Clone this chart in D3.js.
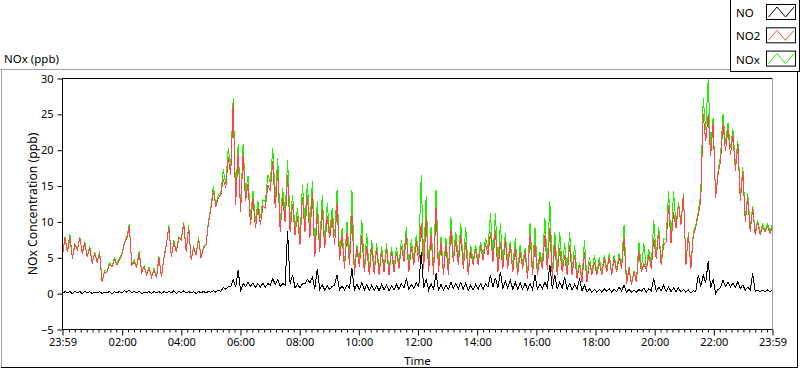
<!DOCTYPE html>
<html><head><meta charset="utf-8">
<script src="https://cdn.jsdelivr.net/npm/d3@7"></script>
<style>
body{margin:0;background:#fff}
svg{display:block}
text{font-family:"Noto Sans",sans-serif;fill:#000}
</style>
</head><body>
<svg id="chart" width="800" height="369"></svg>
<script>
// ---- data (10-minute bins from 23:59; low / high values seen in each bin) ----
const seriesNames = ["NO", "NO2", "NOx"];
const seriesColors = ["#000000", "#ff4646", "#22ee00"];
const yTickValues = [-5, 0, 5, 10, 15, 20, 25, 30];
const xTickMinutes = [0, 121, 241, 361, 481, 601, 721, 841, 961, 1081, 1201, 1321, 1440];
const xTickLabels = ["23:59","02:00","04:00","06:00","08:00","10:00","12:00","14:00","16:00","18:00","20:00","22:00","23:59"];
const chartTitle = "NOx (ppb)";
const yTitle = "NOx Concentration (ppb)";
const xTitle = "Time";

const no2Lo = [5.4,5.8,4.9,6.1,5.6,5.1,4.2,4.4,1.6,3.0,3.7,4.0,5.4,7.7,4.0,3.7,3.0,2.6,2.3,2.2,2.3,6.8,5.1,5.8,7.5,5.8,4.7,5.4,5.0,
6.8,11.9,12.1,13.8,14.7,16.6,12.4,11.4,12.9,9.6,9.1,9.6,11.9,14.3,11.9,8.6,10.0,8.6,8.2,6.8,8.6,7.7,5.1,5.8,6.3,7.7,6.8,4.7,3.5,4.0,
2.6,3.7,3.0,2.6,2.8,2.6,3.0,2.6,3.0,3.5,4.4,3.0,4.0,4.4,3.5,3.0,2.6,3.0,2.6,2.6,4.4,4.0,3.5,2.6,4.0,4.0,4.7,5.4,4.4,
3.0,3.5,3.5,3.0,2.6,3.5,2.1,2.6,2.6,3.5,3.3,2.1,2.6,3.0,2.6,2.6,2.1,1.6,1.6,2.6,2.6,2.6,3.0,2.6,3.0,3.5,1.4,1.2,1.6,
3.0,3.3,3.5,4.9,4.0,7.2,7.0,9.1,9.6,4.0,3.5,9.3,12.9,21.3,19.2,13.3,18.5,19.9,19.4,17.1,12.9,10.0,8.6,8.2,8.2,8.6,8.4];
const no2Hi = [7.7,7.9,6.8,7.8,7.0,6.3,5.6,5.6,3.0,4.0,4.8,4.7,7.0,9.4,4.4,5.6,3.7,3.5,3.3,5.0,4.9,9.3,7.2,7.7,9.7,9.3,6.3,7.6,6.3,
9.8,14.3,13.4,16.0,19.0,26.4,19.5,19.5,15.3,13.2,12.0,12.2,15.2,18.5,17.2,13.5,16.5,12.5,10.8,13.5,13.8,14.2,11.2,12.0,10.8,10.5,12.5,8.0,8.5,11.0,
6.4,8.2,6.6,6.5,6.3,5.9,6.3,6.0,5.8,6.6,8.2,6.6,7.4,9.8,10.5,8.2,12.1,7.0,6.8,8.9,7.5,8.2,7.2,5.9,6.2,6.6,7.0,8.6,8.9,
7.2,7.5,6.8,6.3,5.8,5.8,8.2,6.8,5.1,8.2,9.1,6.8,6.3,5.4,6.8,5.4,4.0,5.8,4.4,4.4,4.4,4.9,5.1,4.9,5.1,7.7,3.5,3.0,5.8,
4.2,5.4,7.7,8.6,6.8,12.4,11.4,12.4,13.8,8.2,8.2,11.0,25.0,25.0,23.8,16.6,23.6,22.9,22.2,20.8,17.1,13.3,11.9,10.0,9.3,9.3,9.3];
const noxLo = [5.5,5.9,5.0,6.2,5.7,5.2,4.3,4.5,1.7,3.1,3.8,4.1,5.5,7.9,4.1,3.8,3.1,2.7,2.4,2.3,2.4,6.9,5.2,5.9,7.6,5.9,4.8,5.5,5.1,
6.9,12.1,12.3,14.1,15.3,17.6,13.3,11.7,13.9,10.6,10.0,10.5,12.8,15.5,13.2,9.6,11.2,10.0,9.0,7.6,10.0,9.2,5.8,6.4,6.8,8.3,8.0,5.2,4.0,4.8,
3.1,4.3,3.5,3.0,3.3,3.0,3.5,3.0,3.5,4.1,5.2,3.6,4.7,5.4,4.3,3.5,3.2,3.5,3.1,3.2,5.1,4.7,4.1,3.0,4.5,4.6,5.3,6.3,5.3,
3.8,4.2,4.3,3.6,3.2,4.1,2.6,3.2,3.2,4.2,4.2,2.8,3.2,3.8,3.2,3.1,2.7,2.0,1.8,2.8,2.8,2.8,3.3,2.8,3.3,3.9,1.6,1.4,1.8,
3.3,3.5,3.9,5.2,4.4,7.5,7.3,9.4,9.8,4.2,3.6,9.6,13.9,22.8,20.0,13.3,19.3,20.9,20.3,18.0,13.6,10.5,9.1,8.5,8.5,8.9,8.7];
const noxHi = [7.9,8.3,7.0,7.9,7.3,6.6,5.8,5.9,3.2,4.3,5.0,5.0,7.2,9.7,4.7,5.9,3.9,3.7,3.5,5.2,5.1,9.5,7.4,7.9,10.0,9.5,6.5,7.9,6.5,
10.1,15.0,13.8,17.3,20.3,27.3,20.8,20.8,16.4,14.3,12.9,13.1,16.6,20.3,18.9,14.7,18.7,13.8,11.9,15.2,15.4,15.7,12.9,13.8,12.6,11.9,14.5,9.1,10.0,14.5,
6.8,10.3,8.4,7.5,7.0,6.6,7.0,6.5,6.5,7.5,9.3,7.6,8.2,16.5,13.6,9.3,14.5,7.9,7.7,10.7,8.6,9.8,9.3,6.8,6.8,7.2,7.7,11.2,11.2,
9.8,8.4,7.3,7.7,6.8,6.3,9.8,9.1,5.8,10.5,12.9,8.6,8.6,7.0,8.6,6.8,4.4,7.5,5.1,5.4,5.1,5.4,5.6,5.4,5.6,9.6,3.7,3.2,7.2,
7.0,6.2,10.3,9.3,7.7,14.3,14.3,12.8,14.0,8.6,8.6,11.5,27.3,29.9,24.5,17.1,25.0,23.8,22.9,21.3,17.6,14.0,12.2,10.3,9.7,9.7,9.7];
const noLo = [0.0,0.1,0.0,0.1,0.0,0.1,0.0,0.1,0.0,0.1,0.0,0.1,0.1,0.2,0.1,0.1,0.0,0.1,0.0,0.1,0.0,0.1,0.1,0.0,0.1,0.1,0.1,0.0,0.1,
0.1,0.2,0.2,0.3,0.6,1.0,0.9,0.3,1.0,1.0,0.9,0.9,0.9,1.2,1.3,1.0,1.2,1.4,0.8,0.8,1.4,1.5,0.7,0.6,0.5,0.6,1.2,0.5,0.5,0.8,
0.5,0.6,0.5,0.4,0.5,0.4,0.5,0.4,0.5,0.6,0.8,0.6,0.7,1.0,0.8,0.5,0.6,0.5,0.5,0.6,0.7,0.7,0.6,0.4,0.5,0.6,0.6,0.9,0.9,
0.8,0.7,0.8,0.6,0.6,0.6,0.5,0.6,0.6,0.7,0.9,0.7,0.6,0.8,0.6,0.5,0.6,0.4,0.2,0.2,0.2,0.2,0.3,0.2,0.3,0.4,0.2,0.2,0.2,
0.3,0.2,0.4,0.3,0.4,0.3,0.3,0.3,0.2,0.2,0.1,0.3,1.0,1.5,0.8,0.0,0.8,1.0,0.9,0.9,0.7,0.5,0.5,0.3,0.3,0.3,0.3];
const noHi = [0.3,0.3,0.3,0.3,0.3,0.3,0.2,0.3,0.2,0.3,0.3,0.3,0.4,0.5,0.3,0.3,0.2,0.3,0.3,0.3,0.3,0.3,0.4,0.3,0.4,0.3,0.3,0.3,0.3,
0.3,0.4,0.5,0.9,1.0,1.9,3.3,1.4,1.6,1.5,1.4,1.5,1.4,2.1,2.0,1.4,8.7,2.6,1.3,1.4,2.0,2.3,3.4,1.2,1.1,1.0,2.6,1.1,1.2,3.5,
1.3,1.5,1.3,1.2,1.1,1.3,1.2,1.1,1.3,1.4,2.1,1.3,1.5,5.8,2.0,1.4,2.8,1.3,1.2,1.6,1.4,1.6,1.5,1.2,1.3,1.4,1.4,2.6,2.2,
3.0,1.8,1.9,1.6,1.5,1.5,1.4,2.6,1.3,1.6,4.0,2.6,1.6,2.3,1.4,1.3,2.1,1.2,0.7,0.6,0.6,0.7,0.7,0.6,0.9,1.2,0.6,0.5,0.6,
0.8,0.7,2.1,0.9,1.2,0.9,0.8,0.8,0.6,0.5,0.4,2.6,2.6,4.5,2.0,0.6,1.9,1.6,1.5,1.7,1.2,0.9,2.8,0.5,0.5,0.5,0.5];

// ---- layout ----
const W = 800, H = 369;
const plot = {left: 62.5, right: 772.5, top: 78.5, bottom: 329.5};
const start = new Date(2020, 0, 1, 23, 59);
const minutes = m => new Date(start.getTime() + m * 60000);
const totalMin = 1440;

const svg = d3.select("#chart");
svg.append("rect").attr("width", W).attr("height", H).attr("fill", "#fff");

const x = d3.scaleTime().domain([start, minutes(totalMin)]).range([plot.left, plot.right]);
const y = d3.scaleLinear().domain([-5, 30]).range([plot.bottom, plot.top]);

// series: two readings per bin (low, high), spread evenly across the day
function toSeries(lo, hi) {
  const pts = [];
  lo.forEach((v, k) => { pts.push(v); pts.push(hi[k]); });
  const step = totalMin / (pts.length - 1);
  return pts.map((v, i) => ({t: minutes(i * step), v}));
}
const seriesData = [toSeries(noLo, noHi), toSeries(no2Lo, no2Hi), toSeries(noxLo, noxHi)];

// outer frame
svg.append("line").attr("x1", 0).attr("x2", 730).attr("y1", 69.5).attr("y2", 69.5).attr("stroke", "#a0a0a0");
svg.append("line").attr("x1", 1.5).attr("x2", 1.5).attr("y1", 69.5).attr("y2", 368).attr("stroke", "#a0a0a0");
svg.append("line").attr("x1", 1).attr("x2", 798).attr("y1", 367.5).attr("y2", 367.5).attr("stroke", "#000");
svg.append("line").attr("x1", 797.5).attr("x2", 797.5).attr("y1", 72).attr("y2", 368).attr("stroke", "#000");

// chart title
svg.append("text").attr("x", 4).attr("y", 63).attr("font-size", 11.5).text(chartTitle);

// plot frame
svg.append("line").attr("x1", plot.left).attr("x2", plot.right).attr("y1", plot.top).attr("y2", plot.top).attr("stroke", "#000");
svg.append("line").attr("x1", plot.right).attr("x2", plot.right).attr("y1", plot.top).attr("y2", plot.bottom).attr("stroke", "#a0a0a0");

// y axis
const yAxis = d3.axisLeft(y).tickValues(yTickValues).tickSize(5).tickPadding(4).tickFormat(d3.format("d"));
const gy = svg.append("g").attr("transform", `translate(${plot.left},0)`).call(yAxis);
gy.select(".domain").attr("d", `M0,${plot.top}V${plot.bottom}`).attr("stroke", "#000");
gy.selectAll("text").attr("font-size", 11).attr("font-family", "Noto Sans");

// x axis minor ticks every 12 minutes
const minorMin = d3.range(13, totalMin, 12).filter(m => !xTickMinutes.some(M => Math.abs(M - m) < 3));
const xMinor = d3.axisBottom(x).tickValues(minorMin.map(minutes)).tickSize(3).tickFormat("");
const gxm = svg.append("g").attr("transform", `translate(0,${plot.bottom})`).call(xMinor);
gxm.select(".domain").remove();

const xAxis = d3.axisBottom(x).tickValues(xTickMinutes.map(minutes)).tickSize(6).tickPadding(3)
  .tickFormat((d, i) => xTickLabels[i]);
const gx = svg.append("g").attr("transform", `translate(0,${plot.bottom})`).call(xAxis);
gx.select(".domain").attr("d", `M${plot.left},0H${plot.right}`).attr("stroke", "#000");
gx.selectAll("text").attr("font-size", 11).attr("font-family", "Noto Sans");

// axis titles
svg.append("text").attr("transform", `translate(37,${(plot.top + plot.bottom) / 2}) rotate(-90)`)
  .attr("text-anchor", "middle").attr("font-size", 12.2).text(yTitle);
svg.append("text").attr("x", (plot.left + plot.right) / 2).attr("y", 365)
  .attr("text-anchor", "middle").attr("font-size", 11.5).text(xTitle);

// plot lines (NOx under NO2 under NO)
svg.append("clipPath").attr("id", "clip").append("rect")
  .attr("x", plot.left + 0.5).attr("y", plot.top + 0.5)
  .attr("width", plot.right - plot.left - 1).attr("height", plot.bottom - plot.top - 1);
const line = d3.line().x(d => x(d.t)).y(d => y(d.v));
const gl = svg.append("g").attr("clip-path", "url(#clip)");
[2, 1, 0].forEach(i => {
  gl.append("path").datum(seriesData[i]).attr("d", line)
    .attr("fill", "none").attr("stroke", seriesColors[i]).attr("stroke-width", 1)
    .attr("shape-rendering", "crispEdges");
});

// legend
const lg = svg.append("g");
lg.append("rect").attr("x", 730.5).attr("y", -1).attr("width", 69).attr("height", 72.5)
  .attr("fill", "#fff").attr("stroke", "#000");
seriesNames.forEach((name, i) => {
  const y0 = 4.5 + i * 23.3;
  lg.append("text").attr("x", 736).attr("y", y0 + 12.5).attr("font-size", 11.5).text(name);
  lg.append("rect").attr("x", 766.5).attr("y", y0).attr("width", 29).attr("height", 15)
    .attr("fill", "#fff").attr("stroke", "#000");
  const sx = d3.scaleLinear().domain([0, 3]).range([768.5, 794]);
  const zig = [[0, 12.5], [1, 2.5], [2, 12.5], [3, 2.5]];
  lg.append("path").attr("d", d3.line().x(d => sx(d[0])).y(d => y0 + d[1])(zig))
    .attr("fill", "none").attr("stroke", seriesColors[i]).attr("stroke-width", 1);
});
</script>
</body></html>
